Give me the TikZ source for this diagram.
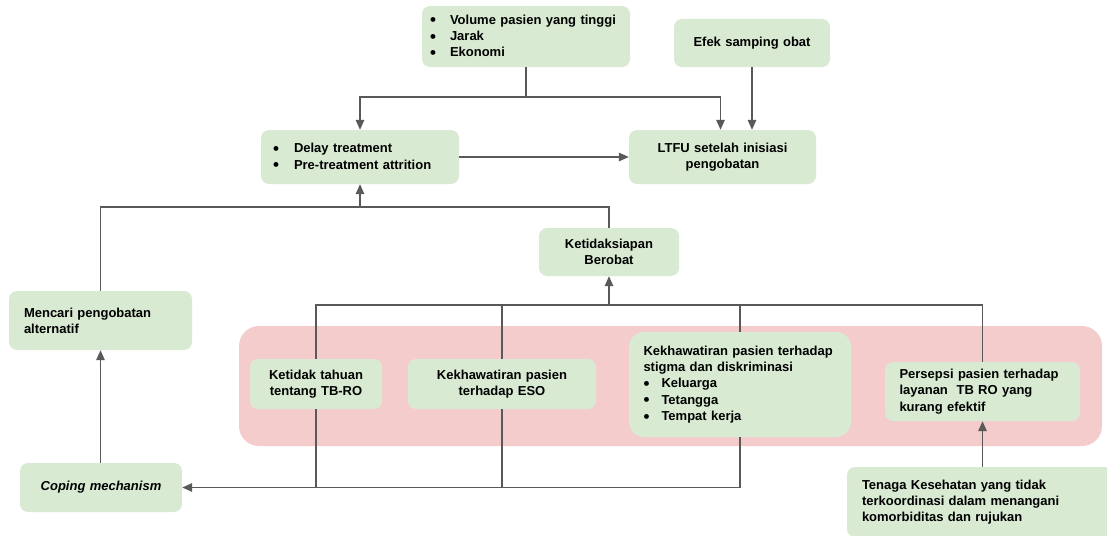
\documentclass[tikz,border=0pt]{standalone}
\usepackage{fontspec}
\setmainfont{Liberation Sans}
\usetikzlibrary{arrows.meta}
\definecolor{boxgreen}{HTML}{D9EAD3}
\definecolor{bandpink}{HTML}{F4CCCC}
\definecolor{wire}{HTML}{595959}
% bullet item: bullet set in a box of the given width, then the text
\newcommand{\bitem}[2]{\makebox[#1][l]{\raisebox{-1.6pt}{\scalebox{1.3}{\textbullet}}}#2}
\begin{document}
\begin{tikzpicture}[x=1pt,y=-1pt,
  box/.style={fill=boxgreen, rounded corners=8pt, inner sep=0pt,
    font=\fontsize{13}{16.3}\selectfont\bfseries},
  link/.style={draw=wire, line width=1.4pt},
  arr/.style={link, -{Triangle[length=10pt,width=8.5pt]}}]
\useasboundingbox (0,0) rectangle (1107,535);

% pink band behind the four factor boxes
\fill[bandpink, rounded corners=20pt] (239,326) rectangle (1102,446);

% boxes
\node[box, minimum width=208pt, minimum height=61pt, text width=192pt, align=left] (vol) at (526,36.5)
  {\bitem{20pt}{Volume pasien yang tinggi}\\\bitem{20pt}{Jarak}\\\bitem{20pt}{Ekonomi}};
\node[box, minimum width=156pt, minimum height=48pt, text width=140pt, align=center] (efek) at (752,43)
  {Efek samping obat};
\node[box, minimum width=198pt, minimum height=54pt, text width=174pt, align=left] (delay) at (360,157)
  {\bitem{21pt}{Delay treatment}\\\bitem{21pt}{Pre-treatment attrition}};
\node[box, minimum width=187pt, minimum height=54pt, text width=171pt, align=center] (ltfu) at (722.5,157)
  {LTFU setelah inisiasi\\pengobatan};
\node[box, minimum width=140pt, minimum height=48pt, text width=124pt, align=center] (siap) at (609,252)
  {Ketidaksiapan\\Berobat};
\node[box, minimum width=183pt, minimum height=59pt, text width=153pt, align=left] (mencari) at (100.5,320.5)
  {Mencari pengobatan\\alternatif};
\node[box, minimum width=132pt, minimum height=50pt, text width=116pt, align=center] (tahu) at (316,384)
  {Ketidak tahuan\\tentang TB-RO};
\node[box, minimum width=188pt, minimum height=50pt, text width=172pt, align=center] (eso) at (502,384)
  {Kekhawatiran pasien\\terhadap ESO};
\node[box, rounded corners=15pt, minimum width=222pt, minimum height=105pt, text width=193pt, align=left] (stigma) at (740,384.5)
  {Kekhawatiran pasien terhadap\\stigma dan diskriminasi\\\bitem{18pt}{Keluarga}\\\bitem{18pt}{Tetangga}\\\bitem{18pt}{Tempat kerja}};
\node[box, minimum width=195pt, minimum height=59pt, text width=166pt, align=left] (persepsi) at (982.5,391.5)
  {Persepsi pasien terhadap\\layanan~ TB RO yang\\kurang efektif};
\node[box, minimum width=273pt, minimum height=70pt, text width=243pt, align=left] (tenaga) at (983.5,502)
  {Tenaga Kesehatan yang tidak\\terkoordinasi dalam menangani\\komorbiditas dan rujukan};
\node[box, minimum width=162pt, minimum height=49pt, text width=146pt, align=center] (coping) at (101,487.5)
  {\itshape Coping mechanism};

% junction points
\coordinate (j1) at (526,97);
\coordinate (j2) at (609,207);
\coordinate (j3) at (609,305);

% top: access factors feed both outcomes
\draw[link] (vol.south) -- (j1);
\draw[arr] (j1) -| (delay.north);
\draw[arr] (j1) -| ([xshift=-2pt]ltfu.north);
\draw[arr] (efek.south) -- (efek.south |- ltfu.north);
\draw[arr] (delay.east) -- (ltfu.west);

% readiness and alternative treatment lead to delay
\draw[link] (siap.north) -- (j2) -| (mencari.north);
\draw[arr] (delay.south |- j2) -- (delay.south);

% factors join into readiness
\draw[link] (tahu.north) |- (persepsi.north |- j3) -- (persepsi.north);
\draw[link] (eso.north) -- (eso.north |- j3);
\draw[link] (stigma.north) -- (stigma.north |- j3);
\draw[arr] (j3) -- (siap.south);

% factors lead to coping mechanism
\draw[arr] (stigma.south) |- (coping.east);
\draw[link] (tahu.south) -- (tahu.south |- coping.east);
\draw[link] (eso.south) -- (eso.south |- coping.east);
\draw[arr] (mencari.south |- coping.north) -- (mencari.south);

% health workers to perception
\draw[arr] (persepsi.south |- tenaga.north) -- (persepsi.south);
\end{tikzpicture}
\end{document}
